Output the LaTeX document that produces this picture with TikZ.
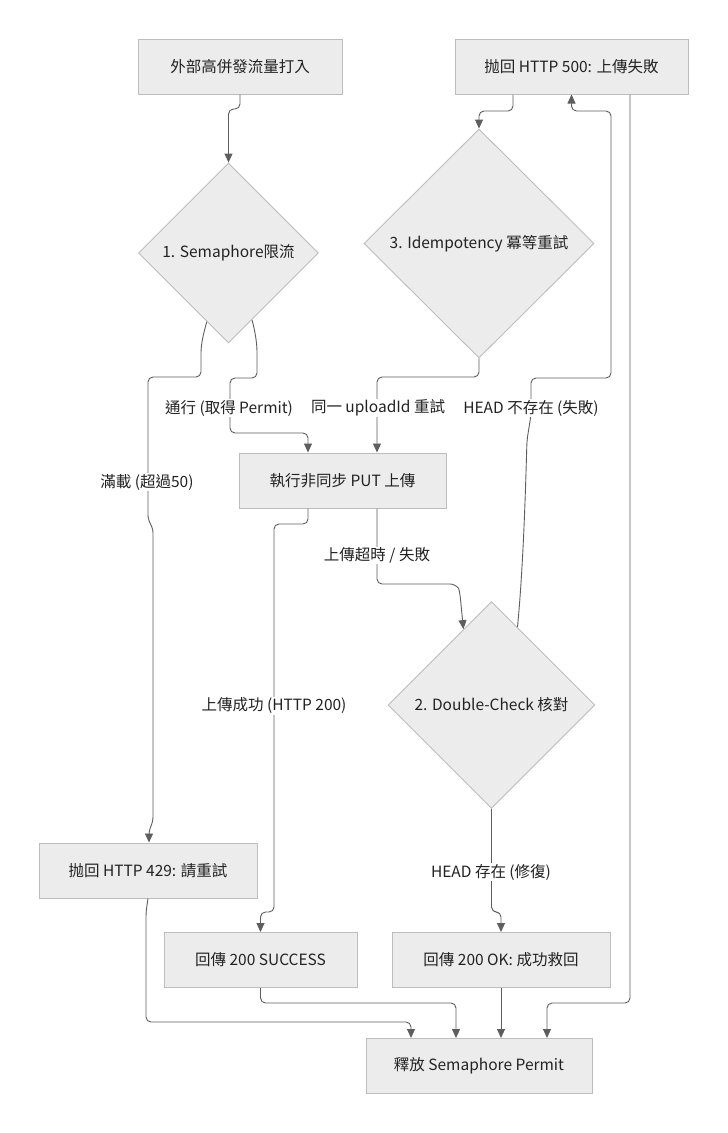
\documentclass[tikz,border=0pt]{standalone}
\usepackage{fontspec}
\setmainfont{Noto Sans CJK TC}
\usetikzlibrary{shapes.geometric,arrows.meta,calc}
\definecolor{nodefill}{HTML}{ECECEC}
\definecolor{nodeline}{HTML}{BDBDBD}
\definecolor{edgecol}{HTML}{5E5E5E}
\definecolor{txt}{HTML}{222222}
\begin{document}
\begin{tikzpicture}[x=1pt,y=-1pt,
  font=\fontsize{15.5pt}{19pt}\selectfont,
  box/.style={rectangle, draw=nodeline, fill=nodefill, line width=1pt, minimum height=55pt, inner sep=0pt, text=txt},
  dec/.style={diamond, draw=nodeline, fill=nodefill, line width=0.9pt, inner sep=0pt, text=txt},
  edge/.style={draw=edgecol, line width=0.9pt, rounded corners=5pt, -{Triangle[length=9pt,width=8pt]}},
  lbl/.style={fill=white, inner sep=0.6pt, text=txt}]

\useasboundingbox[fill=white] (0,0) rectangle (728,1133);

% nodes
\node[box, minimum width=204pt] (A) at (240,66.5) {外部高併發流量打入};
\node[box, minimum width=233pt] (B) at (571.5,66.5) {抛回 HTTP 500: 上傳失敗};
\node[dec, minimum width=180pt, minimum height=180pt] (D1) at (228.5,253) {1. Semaphore限流};
\node[dec, minimum width=230pt, minimum height=229pt] (D3) at (479,243.5) {3. Idempotency 冪等重試};
\node[box, minimum width=207pt] (C) at (342.5,480.5) {執行非同步 PUT 上傳};
\node[dec, minimum width=207pt, minimum height=207pt] (D2) at (491.5,705) {2. Double-Check 核對};
\node[box, minimum width=218pt] (D) at (148,870.5) {抛回 HTTP 429: 請重試};
\node[box, minimum width=193pt] (E) at (260.5,960) {回傳 200 SUCCESS};
\node[box, minimum width=218pt] (F) at (501,960) {回傳 200 OK: 成功救回};
\node[box, minimum width=226pt] (G) at (479,1066) {釋放 Semaphore Permit};

% edges
\draw[edge] (A.south) -- (240,109) -- (228.5,109) -- (D1.north);
\draw[edge] ([xshift=-58.5pt]B.south) -- (513,111) -- (479,111) -- (D3.north);
\draw[edge] ($(D1.south)!0.24!(D1.west)$) .. controls (203,335) and (201,345) .. (201,358)
   -- (201,377) -- (148,377) -- (148,520) -- (153,528) -- (153,822) -- (149,830) -- ([xshift=1pt]D.north);
\draw[edge] ($(D1.south)!0.26!(D1.east)$) .. controls (256,335) and (257,345) .. (257,358)
   -- (257,378) -- (230,378) -- (230,433) -- (308,433) -- ([xshift=-34.5pt]C.north);
\draw[edge] (D3.south) -- (479,377) -- (377,377) -- ([xshift=34.5pt]C.north);
\draw[edge] ($(D2.north)!0.25!(D2.east)$) .. controls (524,560) and (526,470) .. (527,440)
   -- (531,415) -- (531,378) -- (611,378) -- (611,111) -- (571.5,111) -- (B.south);
\draw[edge] ([xshift=-34.5pt]C.south) -- (308,524) -- (274,524) -- (274,912) -- (260.5,912) -- (E.north);
\draw[edge] ([xshift=34.5pt]C.south) -- (377,584) -- (455,584)
   .. controls (460,590) and (461,605) .. ($(D2.north)!0.27!(D2.west)$);
\draw[edge] (D2.south) -- (491.5,912) -- (501,912) -- (F.north);
\draw[edge] (D.south) -- (146,912) -- (146,1022) -- (411,1022) -- ([xshift=-68pt]G.north);
\draw[edge] (E.south) -- (260.5,1003) -- (456,1003) -- ([xshift=-23pt]G.north);
\draw[edge] (F.south) -- ([xshift=22pt]G.north);
\draw[edge] ([xshift=58.5pt]B.south) -- (630,1003) -- (547,1003) -- ([xshift=68pt]G.north);

% edge labels
\node[lbl] (l1) at (229,408) {通行 (取得 Permit)};
\node[lbl] (l2) at (378,408) {同一 uploadId 重試};
\node[lbl] (l3) at (531,408) {HEAD 不存在 (失敗)};
\node[lbl] (l4) at (147,482) {滿載 (超過50)};
\node[lbl] (l5) at (377,555) {上傳超時 / 失敗};
\node[lbl] (l6) at (274,706) {上傳成功 (HTTP 200)};
\node[lbl] (l7) at (491,872) {HEAD 存在 (修復)};
\end{tikzpicture}
\end{document}
